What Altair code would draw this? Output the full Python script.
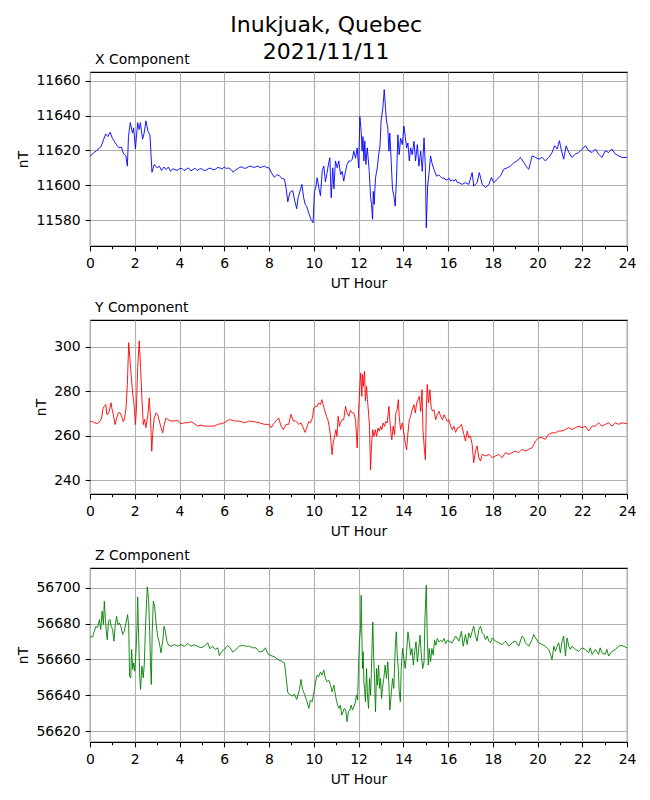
import altair as alt
import pandas as pd

# ---------------- data ----------------
X_HOURS = [0.00,0.10,0.20,0.30,0.40,0.50,0.60,0.70,0.80,0.90,1.00,1.10,1.20,1.30,1.40,1.50,1.60,1.67,1.72,1.80,1.90,1.95,2.03,2.13,2.20,2.25,2.35,2.42,2.50,2.59,2.68,2.77,2.87,
           3.00,3.10,3.20,3.30,3.40,3.50,3.60,3.70,3.80,3.90,4.00,4.10,4.20,4.30,4.40,4.50,4.60,4.70,4.80,4.90,5.00,5.10,5.20,5.30,5.40,5.50,5.60,5.70,5.80,5.90,
           6.00,6.10,6.20,6.30,6.40,6.50,6.60,6.70,6.80,6.90,7.00,7.10,7.20,7.30,7.40,7.50,7.60,7.70,7.80,7.90,8.00,
           8.12,8.24,8.35,8.46,8.58,8.69,8.77,8.84,8.94,9.06,9.15,9.24,9.30,9.36,9.47,9.55,9.62,9.68,9.78,9.88,9.97,
           10.03,10.08,10.15,10.22,10.30,10.38,10.45,10.52,10.60,10.67,10.72,10.78,10.85,10.90,10.97,11.05,11.12,11.20,11.27,11.34,11.42,11.49,11.57,11.64,11.72,11.79,11.87,11.94,
           12.01,12.06,12.12,12.16,12.20,12.24,12.28,12.33,12.39,12.43,12.48,12.54,12.58,12.63,12.66,12.70,12.76,12.84,12.90,12.96,
           13.01,13.09,13.15,13.21,13.25,13.31,13.36,13.40,13.46,13.52,13.58,13.64,13.70,13.76,13.82,13.88,13.96,
           14.03,14.09,14.15,14.21,14.27,14.33,14.40,14.48,14.55,14.63,14.70,14.78,14.85,14.93,14.99,
           15.03,15.09,15.16,15.22,15.28,15.37,15.49,15.58,15.67,15.75,15.82,15.90,15.97,16.05,16.12,16.20,16.27,16.34,16.42,16.49,16.63,16.78,16.93,
           17.08,17.15,17.30,17.40,17.53,17.68,17.83,17.94,18.05,18.20,18.35,18.49,18.64,18.79,18.94,19.09,19.24,19.39,19.54,19.61,19.76,19.91,
           20.06,20.21,20.35,20.50,20.65,20.77,20.88,20.98,21.07,21.17,21.28,21.40,21.54,21.69,21.84,22.00,22.14,22.29,22.44,22.59,22.73,22.88,
           23.03,23.18,23.33,23.48,23.63,23.78,24.00]
X_NT = [11616.5,11618,11619,11620,11621,11622.5,11626,11629.5,11628,11630.5,11627,11625,11623,11621.5,11622,11618,11617,11611,11628,11636,11630,11633,11621,11636,11632,11636,11626.5,11630,11637,11631,11629,11607.5,11612,
        11610,11611,11608.5,11610.5,11609,11610.5,11608,11609.5,11609,11608.5,11609.5,11609.8,11608.5,11609.2,11610,11608.3,11609,11609.8,11608.5,11609.3,11609.5,11608.4,11608.8,11609.6,11609.8,11608.9,11609.2,11610.2,11610,11609.3,
        11610.5,11609.6,11610,11609.1,11607.5,11608.8,11609.5,11610.4,11610.5,11609.7,11610,11610.8,11611,11610.2,11610.5,11611.2,11610,11610.6,11611,11610.2,11610,
        11607,11604.6,11606,11605.5,11604,11603.5,11598,11590.5,11596,11597,11591,11586.5,11593,11595.5,11600.5,11592.8,11589,11588,11584,11580.3,11578.4,
        11596.6,11598,11604.3,11599,11594,11608.5,11611,11602,11607.5,11613,11615.8,11592.8,11610,11598,11614,11610,11614,11606,11608,11602.4,11608,11612,11614,11613.8,11615,11619.6,11615.5,11621.5,
        11610,11639.5,11631,11619.6,11628,11614,11625.5,11612,11621.5,11616,11608,11593,11589,11580.5,11596.5,11589,11604.3,11610,11617.6,11622.5,
        11637,11644.5,11655,11643.5,11637,11633,11619.6,11630,11614,11597.6,11594,11588,11604.3,11629,11617.6,11627,11623.4,
        11634,11628,11621.5,11624.3,11614,11621.5,11617.6,11625.3,11614,11623.4,11611,11619.6,11608,11627.3,11610,
        11575.6,11599.6,11608,11616.9,11613,11609.2,11605.2,11606,11605,11604,11604.3,11603,11603.3,11604,11602.4,11603,11602.4,11603.5,11601.5,11601.5,11600.5,11601.5,11600.5,
        11607.3,11599.5,11601.5,11607.3,11600.5,11598.7,11600.5,11604.5,11601.5,11603.5,11605.5,11609.2,11610,11611,11613,11614,11616,11613,11610,11609.2,11616.9,11616,
        11615,11616,11614,11616,11618.8,11622.7,11620.8,11625.6,11620,11615,11622.7,11618.8,11616,11617.9,11618.8,11620.8,11622.7,11619.8,11618.8,11620.8,11617.9,11616,
        11619.8,11618.8,11620.8,11617.9,11616.9,11616,11616]

Y_HOURS = [0.00,0.10,0.20,0.34,0.45,0.52,0.57,0.64,0.71,0.75,0.80,0.86,0.94,0.98,1.04,1.12,1.19,1.27,1.34,1.41,1.49,1.55,1.61,1.67,1.73,1.79,1.85,1.91,1.97,
           2.03,2.07,2.13,2.20,2.26,2.32,2.38,2.44,2.50,2.59,2.65,2.71,2.76,2.80,2.87,2.95,3.02,3.10,3.17,3.25,3.32,3.40,3.47,3.62,3.77,3.92,
           4.07,4.22,4.37,4.51,4.66,4.81,4.96,5.11,5.26,5.41,5.56,5.71,5.86,6.00,6.23,6.45,6.67,6.90,7.12,7.34,7.57,7.79,
           8.00,8.09,8.24,8.43,8.54,8.64,8.76,8.88,8.98,9.09,9.20,9.33,9.43,9.53,9.61,9.70,9.78,9.85,9.94,
           10.00,10.07,10.15,10.22,10.30,10.36,10.42,10.48,10.57,10.63,10.69,10.75,10.82,10.87,10.93,10.99,11.04,11.09,11.15,11.19,11.27,11.34,11.42,11.49,11.57,11.64,11.72,11.79,11.87,11.94,
           12.00,12.06,12.10,12.15,12.18,12.22,12.27,12.31,12.36,12.40,12.45,12.49,12.54,12.58,12.63,12.69,12.75,12.81,12.87,12.93,12.99,
           13.04,13.10,13.16,13.22,13.28,13.36,13.40,13.45,13.49,13.55,13.61,13.67,13.73,13.78,13.82,13.88,13.96,
           14.03,14.10,14.15,14.21,14.27,14.33,14.40,14.48,14.54,14.60,14.66,14.72,14.78,14.84,14.88,14.94,14.99,
           15.03,15.07,15.13,15.19,15.25,15.31,15.37,15.45,15.52,15.60,15.67,15.75,15.82,15.90,15.97,
           16.04,16.12,16.19,16.27,16.34,16.42,16.49,16.60,16.71,16.78,16.86,16.93,17.00,17.08,17.15,17.23,17.30,17.38,17.45,17.53,17.68,17.83,17.98,
           18.12,18.27,18.42,18.57,18.72,18.87,19.01,19.16,19.31,19.46,19.61,19.76,19.91,20.06,20.21,20.35,20.50,20.65,20.80,20.95,
           21.10,21.25,21.40,21.54,21.69,21.84,21.99,22.14,22.29,22.44,22.59,22.73,22.88,23.03,23.18,23.33,23.48,23.63,23.78,24.00]
Y_NT = [266.5,266.4,265.8,265.4,266.6,268,271.8,273.3,274,269.6,269.6,271,274.8,272.2,269.6,265,268,270.3,270.3,268.8,266.3,268,272.6,283,301.8,293.6,286,278.6,274,
        265,271,290.6,302.6,290.6,277,265,267.3,263.6,269.6,277,266.6,253,260.6,268,270.3,269.6,266.6,263.6,261.3,265.1,268,267.3,266.6,266.6,266.9,
        265.4,265.8,265.8,266.3,265.4,264.3,264.8,264.3,264.3,264.3,264.3,265.1,265.4,265.8,267.3,266.6,266.6,265.8,266.6,266.3,265.8,265.1,
        265.1,263.6,265.8,268,264.3,262.8,265.1,265.1,269.6,266.6,266.6,265.1,265.8,263.6,261.5,264,266.4,265.7,268,
        272.4,273.2,273.2,274.7,274,276.2,274,271.7,268.7,267.2,264.2,259.7,251.5,256.7,259.7,262.7,259.7,268.7,264.2,265.7,267.2,267.2,273.2,270.2,268.7,271.4,270.2,270.2,267.2,254.5,
        270.2,282.2,288.2,277.7,287.5,282.2,289,275.6,282.2,276.2,270.2,264.2,244.7,255.2,262.7,259.7,262.7,259.7,263.5,262,264.2,
        262.7,265.7,264.2,266.4,265.7,273.2,267.2,261.2,258.2,264.2,260.4,270.2,271.7,276.2,268.7,262.7,265.7,
        261.2,256,253.7,261.2,267.2,268.7,271.7,274,270.2,274.7,276.2,277.7,270.9,280.7,262.7,254.5,249.2,
        271.7,283,274.7,280.7,272.4,271,271.7,267.2,269.4,271,268.7,267.2,269.4,267.9,266.4,
        267.2,264.2,262.7,264.2,261.5,263.5,263.6,265.1,260.6,257.6,262.1,259.1,259.9,256.1,247.9,253.1,255.4,250.1,248.6,251.6,250.9,251.6,250.1,
        250.9,251.6,250.1,252.4,251.6,252.4,253.1,252.4,253.9,253.1,253.9,254.6,257.6,259.1,259.1,258.4,260.6,261.3,261.3,262.1,
        262.1,262.8,263.6,262.8,263.6,264.3,263.6,264.3,262.1,264.3,264.3,265.8,264.3,265.1,265.8,264.3,265.8,265.1,265.8,265.4]

Z_HOURS = [0.00,0.12,0.19,0.27,0.34,0.42,0.48,0.54,0.60,0.64,0.69,0.73,0.77,0.83,0.89,0.95,1.01,1.07,1.13,1.19,1.25,1.31,1.38,1.46,1.53,1.61,1.68,1.73,1.77,1.82,1.86,1.91,1.95,
           2.00,2.06,2.10,2.13,2.17,2.22,2.26,2.32,2.38,2.43,2.47,2.52,2.56,2.62,2.67,2.71,2.74,2.78,2.83,2.89,2.95,3.02,3.10,3.17,3.25,3.31,3.37,3.43,3.52,3.62,3.77,3.92,
           4.07,4.22,4.37,4.51,4.66,4.81,4.96,5.11,5.26,5.36,5.48,5.60,5.71,5.78,5.90,6.00,6.15,6.26,6.38,6.53,6.67,6.82,6.97,7.12,7.27,7.42,7.57,7.72,7.84,7.94,
           8.09,8.24,8.39,8.54,8.69,8.76,8.84,8.94,9.03,9.13,9.24,9.36,9.43,9.50,9.59,9.70,9.78,9.85,9.93,
           10.00,10.07,10.15,10.22,10.30,10.37,10.45,10.52,10.60,10.67,10.75,10.82,10.90,10.97,11.01,11.07,11.13,11.19,11.25,11.31,11.37,11.43,11.49,11.55,11.61,11.67,11.73,11.79,11.85,11.91,11.96,
           12.00,12.04,12.09,12.12,12.15,12.18,12.21,12.24,12.27,12.31,12.36,12.40,12.45,12.49,12.54,12.58,12.61,12.64,12.67,12.72,12.76,12.81,12.85,12.90,12.94,12.99,
           13.03,13.07,13.13,13.19,13.25,13.31,13.36,13.40,13.46,13.52,13.58,13.64,13.69,13.73,13.78,13.82,13.87,13.91,13.97,
           14.03,14.09,14.15,14.21,14.27,14.33,14.39,14.45,14.51,14.57,14.63,14.69,14.75,14.81,14.87,14.93,14.97,
           15.03,15.07,15.12,15.16,15.22,15.28,15.34,15.40,15.46,15.52,15.60,15.67,15.75,15.82,15.90,15.97,
           16.04,16.19,16.34,16.49,16.60,16.68,16.78,16.86,16.93,17.00,17.08,17.15,17.23,17.30,17.38,17.45,17.53,17.60,17.68,17.75,17.83,17.90,17.98,
           18.12,18.27,18.42,18.57,18.72,18.87,19.01,19.16,19.31,19.39,19.46,19.61,19.76,19.83,19.91,20.06,20.21,20.35,20.50,20.58,20.65,20.73,20.80,20.88,20.95,
           21.02,21.10,21.17,21.25,21.32,21.40,21.47,21.54,21.69,21.84,21.99,22.14,22.29,22.36,22.44,22.59,22.73,22.80,22.88,23.03,23.10,23.18,23.33,23.48,23.63,23.78,24.00]
Z_NT = [56672.6,56672.6,56675.7,56678.5,56677.6,56682.2,56676.7,56686.9,56679.4,56692.4,56682.2,56675.7,56671,56681.3,56682.2,56678.5,56676.7,56670.2,56679.4,56684,56679.4,56680.4,56678.5,56673.9,56675.7,56680.4,56685,56678.5,56650.7,56649.8,56665.6,56654.4,56658.1,
        56653.5,56665.6,56678.5,56694.8,56674.8,56650.7,56643.3,56656.3,56649.8,56658.1,56674.8,56689.6,56700.4,56693.3,56674.8,56654.4,56646.1,56674.8,56692.4,56689.6,56680.4,56673,56669.3,56663.7,56670.2,56678.5,56675.7,56670.2,56667.8,56667.4,56668.3,56667.4,
        56668.3,56667.4,56668.9,56667.4,56668.1,56667.4,56666.5,56667.4,56669.3,56666,56667.4,56665.6,56666.5,56662.2,56664.6,56665.6,56667.8,56666.5,56664.1,56665.6,56667.4,56667.8,56667.4,56667.4,56666.5,56666.5,56664.1,56664.6,56666.5,56663.3,
        56662.2,56661.5,56660,56659.1,56658.1,56650.7,56641.5,56640.6,56639.6,56640.6,56637.8,56643.3,56648.9,56643.3,56640.6,56636.5,56632.8,56637.4,56636.5,
        56641.1,56646.7,56651.3,56650.4,56653.1,56651.3,56654.1,56649.4,56647.6,56648.5,56645.7,56642,56645.7,56640.2,56637.4,56634.6,56632.8,56634.6,56629.1,56630.9,56632.8,56631.9,56625.4,56630.9,56631.9,56634.6,56631.9,56633.7,56635.6,56640.2,56637.4,
        56655,56669.8,56677.2,56695.7,56673.5,56655,56664.3,56647.6,56643.9,56636.5,56655,56640.2,56632.8,56649.4,56640.2,56655,56669.8,56680.9,56664.3,56647.6,56630.9,56655,56645.7,56656.9,56643.9,56649.4,
        56638.3,56643.9,56649.4,56656.9,56649.4,56658.7,56645.7,56631.9,56640.2,56649.4,56643.9,56666.1,56675.4,56662.4,56655,56642,56636.5,56655,56666.1,
        56660.6,56655,56664.3,56675.4,56669.8,56662.4,56666.1,56656.9,56664.3,56669.8,56658.7,56666.1,56673.5,56662.4,56655,56658.7,56682.8,
        56701.3,56673.5,56656.9,56666.1,56658.7,56666.1,56662.4,56670.7,56667.9,56671.7,56669.8,56670.7,56669.8,56671.7,56668.9,56670.7,
        56670.2,56669.3,56673,56670.2,56675.7,56667.4,56673.9,56668.3,56674.8,56672,56675.7,56678.5,56673,56670.2,56676.7,56678.5,56674.8,56673.9,56671.1,56673,56670.2,56669.3,56672,
        56670.2,56669.3,56668.3,56670.2,56667.4,56669.3,56670.2,56667.4,56673,56672,56669.3,56667.4,56671.1,56673.9,56672,56669.3,56668.3,56667.4,56665.6,56662.8,56660,56667.4,56664.6,56667.4,56669.3,
        56663.7,56670.2,56673,56661.9,56672,56667.4,56665.6,56667.4,56665.6,56664.6,56666.5,56665.6,56663.7,56666.5,56662.8,56665.6,56662.8,56666.5,56663.7,56662.8,56665.6,56661.9,56664.6,56665.6,56667.4,56667.8,56666.5]

X_TICKS = [11580, 11600, 11620, 11640, 11660]
Y_TICKS = [240, 260, 280, 300]
Z_TICKS = [56620, 56640, 56660, 56680, 56700]
HOUR_TICKS = list(range(0, 25))

FONT = "DejaVu Sans"


def panel(hours, vals, color, domain, ticks, title):
    df = pd.DataFrame({"hour": hours, "val": vals})
    return alt.Chart(df).mark_line(color=color, strokeWidth=0.9).encode(
        x=alt.X("hour:Q",
                scale=alt.Scale(domain=[0, 24], nice=False, zero=False),
                axis=alt.Axis(title="UT Hour", values=HOUR_TICKS,
                              labelExpr="datum.value % 2 === 0 ? datum.label : ''",
                              labelOverlap=False, labelFlush=False,
                              tickSize={"condition": {"test": "datum.value % 2 === 0", "value": 4.9}, "value": 2.8},
                              gridOpacity={"condition": {"test": "datum.value % 2 === 0", "value": 1}, "value": 0},
                              labelPadding=5.5, titlePadding=6)),
        y=alt.Y("val:Q",
                scale=alt.Scale(domain=domain, nice=False, zero=False),
                axis=alt.Axis(title="nT", values=ticks, format="d", tickSize=4.9, labelPadding=4.9,
                              titlePadding=5.5)),
    ).properties(
        width=537, height=174,
        title=alt.TitleParams(title, anchor="start", frame="group", fontSize=13.9, fontWeight="normal",
                              font=FONT, color="black", dx=5, offset=5),
    )


px = panel(X_HOURS, X_NT, "#0000ff", [11565.1, 11665.1], X_TICKS, "X Component")
py = panel(Y_HOURS, Y_NT, "#ff0000", [233.8, 312.0], Y_TICKS, "Y Component")
pz = panel(Z_HOURS, Z_NT, "#008000", [56614.1, 56710.9], Z_TICKS, "Z Component")

chart = alt.vconcat(px, py, pz, spacing=9).properties(
    title=alt.TitleParams(["Inukjuak, Quebec", "2021/11/11"], anchor="middle", fontSize=22,
                          fontWeight="normal", font=FONT, color="black", lineHeight=27,
                          offset=-11),
    padding={"left": 7, "top": 5, "right": 5, "bottom": 5},
).configure_view(
    stroke="black", strokeWidth=1.1
).configure_axis(
    labelFont=FONT, labelFontSize=13.9, labelColor="black",
    titleFont=FONT, titleFontSize=13.9, titleFontWeight="normal", titleColor="black",
    tickColor="black", tickWidth=1.1, domain=False,
    gridColor="#b0b0b0", gridWidth=1.1,
)

chart.save("out.html", embed_options={"renderer": "svg", "actions": False})
